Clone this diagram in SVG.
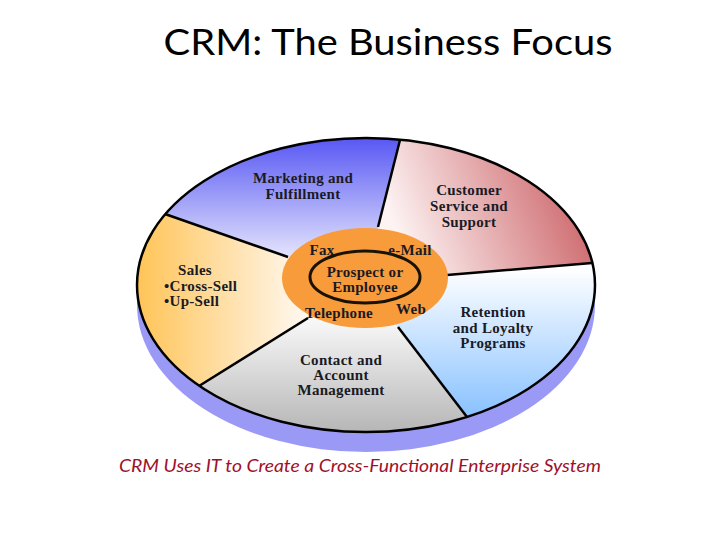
<svg xmlns="http://www.w3.org/2000/svg" width="720" height="540" viewBox="0 0 720 540">
<defs>
<linearGradient id="gMkt" gradientUnits="userSpaceOnUse" x1="0" y1="140" x2="0" y2="262"><stop offset="0" stop-color="#5a5af4"/><stop offset="1" stop-color="#eaeafd"/></linearGradient>
<linearGradient id="gCs" gradientUnits="userSpaceOnUse" x1="585" y1="195" x2="410" y2="265"><stop offset="0" stop-color="#cc6468"/><stop offset="1" stop-color="#fdf3f3"/></linearGradient>
<linearGradient id="gRet" gradientUnits="userSpaceOnUse" x1="0" y1="268" x2="0" y2="420"><stop offset="0" stop-color="#ffffff"/><stop offset="1" stop-color="#86c0ff"/></linearGradient>
<linearGradient id="gCon" gradientUnits="userSpaceOnUse" x1="0" y1="320" x2="0" y2="432"><stop offset="0" stop-color="#f8f8f8"/><stop offset="1" stop-color="#b6b6b6"/></linearGradient>
<linearGradient id="gSal" gradientUnits="userSpaceOnUse" x1="140" y1="0" x2="305" y2="0"><stop offset="0" stop-color="#ffc55a"/><stop offset="1" stop-color="#fff8f0"/></linearGradient>
<style>
.seg{stroke:none}
.div{stroke:#000;stroke-width:2.5;fill:none}
.lbl{font-family:"Liberation Serif","Times New Roman",serif;font-weight:bold;font-size:15px;fill:#1a1a24;letter-spacing:0.3px;text-anchor:middle}
.lft{text-anchor:start}
</style>
</defs>
<text x="388" y="55" font-family="Lato,'Open Sans',sans-serif" font-size="37" fill="#000" text-anchor="middle" textLength="449" lengthAdjust="spacingAndGlyphs">CRM: The Business Focus</text>
<g id="base">
<ellipse cx="366" cy="305" rx="229" ry="147" fill="#9a9af6"/>
</g>
<g id="marketing">
<path class="seg" fill="url(#gMkt)" d="M365,278 L288,257 L165,214 A229,147 0 0 1 400,140 L378,227 Z"/>
<text class="lbl" x="303" y="183" fill="#14143c">Marketing and</text>
<text class="lbl" x="303" y="199">Fulfillment</text>
</g>
<g id="customer-service">
<path class="seg" fill="url(#gCs)" d="M365,278 L378,227 L400,140 A229,147 0 0 1 592,263 L447,275 Z"/>
<text class="lbl" x="469" y="195">Customer</text>
<text class="lbl" x="469" y="211">Service and</text>
<text class="lbl" x="469" y="227">Support</text>
</g>
<g id="retention">
<path class="seg" fill="url(#gRet)" d="M365,278 L447,275 L592,263 A229,147 0 0 1 467,417 L398,327 Z"/>
<text class="lbl" x="493" y="317">Retention</text>
<text class="lbl" x="493" y="333">and Loyalty</text>
<text class="lbl" x="493" y="348">Programs</text>
</g>
<g id="contact">
<path class="seg" fill="url(#gCon)" d="M365,278 L398,327 L467,417 A229,147 0 0 1 199,386 L308,318 Z"/>
<text class="lbl" x="341" y="365">Contact and</text>
<text class="lbl" x="341" y="380">Account</text>
<text class="lbl" x="341" y="395">Management</text>
</g>
<g id="sales">
<path class="seg" fill="url(#gSal)" d="M365,278 L308,318 L199,386 A229,147 0 0 1 165,214 L288,257 Z"/>
<text class="lbl lft" x="178" y="275">Sales</text>
<text class="lbl lft" x="164" y="291">•Cross-Sell</text>
<text class="lbl lft" x="164" y="306">•Up-Sell</text>
</g>
<g id="connectors">
<ellipse class="div" cx="366" cy="285" rx="229" ry="147"/>
<line class="div" x1="378" y1="227" x2="400" y2="140"/>
<line class="div" x1="447" y1="275" x2="592" y2="263"/>
<line class="div" x1="398" y1="327" x2="467" y2="417"/>
<line class="div" x1="308" y1="318" x2="199" y2="386"/>
<line class="div" x1="288" y1="257" x2="165" y2="214"/>
</g>
<g id="center">
<ellipse cx="365" cy="278" rx="83" ry="50" fill="#f89b3a"/>
<ellipse cx="365" cy="277" rx="55" ry="26" fill="none" stroke="#1a1200" stroke-width="3"/>
<text class="lbl" x="322" y="255">Fax</text>
<text class="lbl" x="410" y="255">e-Mail</text>
<text class="lbl" x="365" y="277">Prospect or</text>
<text class="lbl" x="365" y="292">Employee</text>
<text class="lbl" x="339" y="318">Telephone</text>
<text class="lbl" x="411" y="314">Web</text>
</g>
<text x="360" y="472" font-family="Lato,'Open Sans',sans-serif" font-style="italic" font-size="18" fill="#a0102a" text-anchor="middle" textLength="482" lengthAdjust="spacingAndGlyphs">CRM Uses IT to Create a Cross-Functional Enterprise System</text>
</svg>
